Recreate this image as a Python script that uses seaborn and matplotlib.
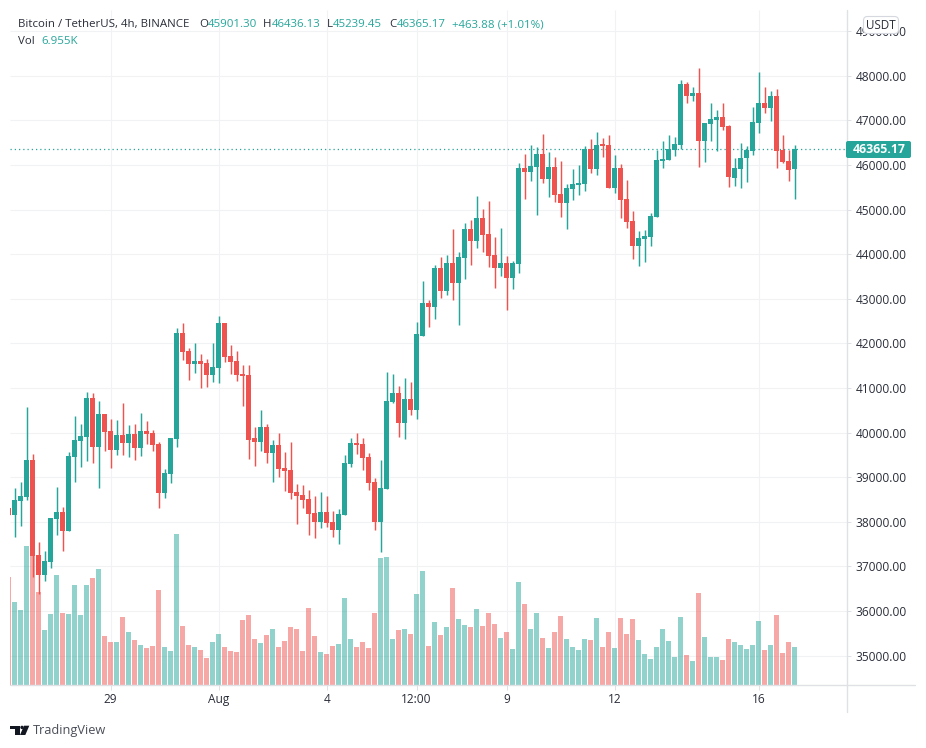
import matplotlib
matplotlib.use('Agg')  # Headless mode
import matplotlib.pyplot as plt
import pandas as pd
import seaborn as sns
from matplotlib.lines import Line2D
from matplotlib.patches import FancyBboxPatch, Polygon, Circle
from matplotlib.transforms import Affine2D

# 4h candles, oldest first (the first one is cut off by the left edge)
opens = [38305, 38148, 38462, 38552, 39382, 37250, 36802, 37093, 38058, 38215, 37789, 39449,
         39809, 39898, 40773, 39674, 40414, 40033, 39607, 39943, 39764, 39966, 39651, 40033,
         39988, 39741, 38642, 39068, 39853, 42232, 41828, 41536, 41604, 41559, 41290, 41447,
         42456, 41716, 41604, 41312, 41290, 39876, 39786, 40123, 39539, 39719, 39203, 39158,
         38664, 38597, 38507, 38193, 37991, 38215, 37991, 37811, 38148, 39292, 39764, 39741,
         39449, 38888, 37991, 38731, 40684, 40886, 40212, 40751, 40504, 42170, 42911, 42821,
         43696, 43180, 43808, 43360, 43921, 44571, 44302, 44818, 44459, 43988, 43696, 43808,
         43472, 43786, 45940, 45851, 45963, 46254, 45693, 45963, 45357, 45155, 45469, 45559,
         45581, 46367, 45918, 46457, 46457, 45492, 45940, 45245, 44751, 44190, 44347, 44392,
         44841, 46098, 46120, 46344, 46457, 47803, 47534, 47623, 46546, 46928, 47018, 47085,
         46883, 45716, 45918, 46165, 46322, 46950, 47377, 47287, 47534, 46344, 46098, 45901.30]
highs = [38305, 38754, 38888, 40571, 39517, 37542, 37340, 38081, 38776, 38327, 39562, 40370,
         40190, 40908, 40886, 40706, 40414, 40302, 40280, 40661, 40168, 40190, 40437, 40257,
         40055, 39786, 39180, 39876, 42344, 42456, 41895, 42008, 41761, 41649, 42008, 42614,
         42456, 41963, 41828, 41514, 41514, 40123, 40504, 40190, 39831, 39988, 39562, 39786,
         38844, 38821, 38709, 38574, 38664, 38574, 38238, 38283, 39494, 39876, 39988, 39876,
         39539, 38978, 39382, 41357, 41312, 41043, 41222, 41132, 42479, 43405, 42978, 43764,
         43943, 43988, 44571, 44055, 44706, 44773, 45312, 45020, 45200, 44392, 44594, 43966,
         43853, 46052, 46254, 46456, 46412, 46703, 46299, 46187, 46097, 45581, 45918, 46008,
         46434, 46591, 46748, 46614, 46681, 46232, 46030, 45671, 44976, 44527, 44549, 44931,
         46344, 46546, 46681, 46636, 47893, 47848, 47736, 48162, 46950, 47377, 47220, 47377,
         46905, 46165, 46501, 46434, 47309, 48072, 47736, 47668, 47713, 46681, 46344, 46436.13]
lows = [38148, 37654, 37901, 38485, 36757, 36375, 36667, 36959, 37699, 37340, 37789, 38888,
        39225, 39360, 39315, 38754, 39584, 39203, 39494, 39494, 39449, 39382, 39472, 39741,
        39584, 38305, 38529, 38866, 39674, 41626, 41177, 41334, 40998, 41020, 41132, 41110,
        41581, 41312, 41155, 40594, 39405, 39248, 39584, 39315, 38888, 39001, 38687, 38507,
        37946, 38305, 37699, 37632, 37856, 37879, 37654, 37497, 38148, 39225, 39517, 39158,
        38709, 37811, 37318, 38731, 40661, 39898, 39853, 40392, 40302, 42170, 42372, 42552,
        43023, 43090, 42978, 42417, 43449, 43764, 44145, 44055, 43719, 43247, 43517, 42754,
        43225, 43584, 45245, 45649, 44886, 45604, 45290, 45177, 44841, 44571, 45222, 45334,
        45424, 45828, 45783, 46187, 45492, 45379, 44818, 44594, 43898, 43741, 43831, 44190,
        44841, 45940, 46120, 46210, 46367, 47377, 47422, 45963, 46075, 46546, 46322, 46793,
        45514, 45537, 45492, 45626, 46232, 46726, 47175, 46995, 45940, 46053, 45649, 45239.45]
closes = [38148, 38485, 38574, 39382, 37228, 36802, 37116, 38081, 38215, 37789, 39472, 39831,
          39921, 40773, 39674, 40414, 40010, 39607, 39943, 39764, 39966, 39651, 40033, 39966,
          39719, 38642, 39090, 39876, 42232, 41806, 41536, 41604, 41536, 41290, 41469, 42456,
          41693, 41581, 41290, 41267, 39831, 39786, 40123, 39539, 39719, 39180, 39135, 38642,
          38574, 38485, 38170, 37991, 38215, 37968, 37811, 38170, 39315, 39764, 39719, 39427,
          38866, 37991, 38754, 40706, 40886, 40212, 40751, 40504, 42210, 42911, 42821, 43696,
          43180, 43808, 43360, 43943, 44571, 44302, 44818, 44437, 43966, 43696, 43808, 43472,
          43808, 45940, 45851, 45985, 46254, 45693, 45963, 45334, 45155, 45491, 45581, 45604,
          46367, 45918, 46456, 46434, 45492, 45940, 45222, 44729, 44190, 44370, 44415, 44863,
          46120, 46142, 46367, 46479, 47803, 47534, 47623, 46546, 46950, 47040, 47085, 46861,
          45739, 45940, 46165, 46344, 46973, 47377, 47287, 47534, 46322, 46075, 45896, 46365.17]
# volume in thousands
volumes = [19.8, 15.2, 13.7, 25.4, 24.7, 17.0, 10.1, 13.0, 20.1, 13.2, 13.0, 18.3,
           12.8, 18.3, 19.6, 21.2, 9.0, 7.9, 7.9, 12.4, 9.7, 8.2, 7.3, 6.8,
           7.1, 17.4, 7.0, 6.2, 27.6, 10.8, 7.3, 7.0, 6.4, 4.9, 7.9, 9.3,
           7.0, 6.2, 6.0, 11.9, 12.8, 8.4, 7.7, 9.2, 10.2, 7.0, 8.1, 10.6,
           10.2, 6.2, 14.1, 9.0, 6.0, 5.7, 7.1, 7.5, 15.9, 8.4, 7.0, 7.9,
           6.8, 13.2, 23.2, 23.4, 8.4, 10.1, 10.2, 9.3, 16.7, 20.9, 7.1, 11.5,
           9.2, 10.6, 17.8, 12.1, 11.0, 10.6, 13.9, 10.8, 13.2, 11.2, 8.6, 9.7,
           6.6, 18.8, 14.8, 10.2, 13.2, 8.6, 6.8, 9.7, 12.6, 8.4, 7.0, 6.4,
           8.4, 8.2, 12.3, 7.0, 9.7, 6.8, 12.3, 9.3, 12.1, 8.2, 5.7, 4.8,
           7.0, 10.2, 8.1, 5.1, 12.4, 5.5, 4.4, 16.8, 8.8, 5.1, 5.1, 4.6,
           8.4, 7.9, 7.3, 6.6, 7.3, 11.7, 6.4, 7.3, 12.8, 5.9, 7.9, 6.955]

date_ticks = [16, 34, 52, 67, 82, 100, 124]
date_labels = ['29', 'Aug', '4', '12:00', '9', '12', '16']
price_ticks = list(range(35000, 50000, 1000))

UP = '#26a69a'
DOWN = '#ef5350'
GRID = '#f0f2f4'
AXIS = '#dfe1e5'
TEXT = '#2a2e39'

sns.set_theme(style='white')
plt.rcParams['font.family'] = ['Open Sans', 'DejaVu Sans']

df = pd.DataFrame({'bar': range(-1, len(opens) - 1), 'open': opens, 'high': highs,
                   'low': lows, 'close': closes, 'volume': volumes})
df['dir'] = ['up' if c >= o else 'down' for o, c in zip(df['open'], df['close'])]
df['color'] = df['dir'].map({'up': UP, 'down': DOWN})

W, H = 926, 748
fig = plt.figure(figsize=(W / 100, H / 100), dpi=100, facecolor='white')
# draw overlays in image pixel coordinates
px = Affine2D().scale(1 / W, -1 / H).translate(0, 1) + fig.transFigure

left, right, top, bottom = 10, 846, 10, 685
pos = [left / W, 1 - bottom / H, (right - left) / W, (bottom - top) / H]
xlim = ((left - 14.67) / 6, (right - 14.67) / 6)
ylim = (48000 - (bottom - 75.7) / 0.044615, 48000 + (75.7 - top) / 0.044615)

# volume layer at the bottom, holds the grid as well
ax_vol = fig.add_axes(pos, zorder=1)
ax = fig.add_axes(pos, zorder=2)
ax.patch.set_alpha(0)

sns.barplot(data=df, x='bar', y='volume', hue='dir', palette={'up': UP, 'down': DOWN},
            native_scale=True, dodge=False, width=5 / 6, saturation=1, alpha=0.5,
            linewidth=0, legend=False, ax=ax_vol, zorder=2)
ax_vol.set_xlim(xlim)
ax_vol.set_ylim(0, (bottom - top) * 6.955 / 38)
ax_vol.axis('off')
ax_vol.patch.set_visible(False)

ax_vol.vlines(date_ticks, 0, 1, transform=ax_vol.get_xaxis_transform(), color=GRID, lw=0.8, zorder=0)
ax_vol.hlines(price_ticks, 0, 1, transform=ax.get_yaxis_transform(), color=GRID, lw=0.8, zorder=0)

ax.axhline(closes[-1], color=UP, lw=0.9, ls=(0, (1, 2.4)), zorder=1)
ax.vlines(df['bar'], df['low'], df['high'], colors=df['color'], lw=1.05, zorder=2)
ax.bar(df['bar'], (df['close'] - df['open']).abs().clip(lower=40), bottom=df[['open', 'close']].min(axis=1),
       width=5 / 6, color=df['color'], linewidth=0, zorder=3)

ax.set_xlim(xlim)
ax.set_ylim(ylim)
for s in ax.spines.values():
    s.set_visible(False)
ax.yaxis.tick_right()
ax.set_yticks(price_ticks)
ax.set_yticklabels([f'{p:.2f}' for p in price_ticks])
ax.set_xticks(date_ticks)
ax.set_xticklabels(date_labels)
ax.tick_params(axis='y', right=True, length=3.6, width=0.7, color=AXIS, labelcolor=TEXT, labelsize=8.6, pad=3.5)
ax.tick_params(axis='x', bottom=True, length=3.6, width=0.7, color=AXIS, labelcolor=TEXT, labelsize=8.6, pad=2.5)

fig.add_artist(Line2D([left, 915], [685.5, 685.5], transform=px, color=AXIS, lw=1.0, zorder=5))
fig.add_artist(Line2D([846.5, 846.5], [top, 712], transform=px, color=AXIS, lw=1.0, zorder=5))

# last price label
fig.add_artist(FancyBboxPatch((846, 141), 65, 17, boxstyle='round,pad=0,rounding_size=2', transform=px,
                              facecolor=UP, edgecolor='none', zorder=6))
fig.text(879, 149.5, f'{closes[-1]:.2f}', transform=px, color='white', fontsize=8.8, fontweight='bold',
         ha='center', va='center', zorder=7)

# currency button
fig.add_artist(FancyBboxPatch((863.5, 16.5), 35, 17, boxstyle='round,pad=0,rounding_size=4', transform=px,
                              facecolor='white', edgecolor='#d6d8e0', lw=0.8, zorder=6))
fig.text(881, 25.2, 'USDT', transform=px, color=TEXT, fontsize=8.4, ha='center', va='center', zorder=7)

# header legend
legend_parts = [
    (18, 24.7, 'Bitcoin / TetherUS, 4h, BINANCE', TEXT),
    (199.3, 24.7, 'O', TEXT), (207.5, 24.7, '45901.30', UP),
    (263.3, 24.7, 'H', TEXT), (271.7, 24.7, '46436.13', UP),
    (326.7, 24.7, 'L', TEXT), (332.8, 24.7, '45239.45', UP),
    (389, 24.7, 'C', TEXT), (396.9, 24.7, '46365.17', UP),
    (451.7, 24.7, '+463.88 (+1.01%)', UP),
    (18, 41.7, 'Vol', TEXT), (41.7, 41.7, '6.955K', UP),
]
for x, y, label, color in legend_parts:
    fig.text(x, y, label, transform=px, color=color, fontsize=8.25, ha='left', va='center', zorder=7)

# TradingView mark
logo = '#131722'
fig.add_artist(Polygon([(10, 725.7), (20, 725.7), (20, 735), (15, 735), (15, 729.3), (10, 729.3)], closed=True,
                       transform=px, facecolor=logo, edgecolor='none', zorder=6))
fig.add_artist(Circle((22, 727.4), 1.7, transform=px, facecolor=logo, edgecolor='none', zorder=6))
fig.add_artist(Polygon([(29.3, 725.7), (25.3, 735), (20, 735), (24, 725.7)], closed=True,
                       transform=px, facecolor=logo, edgecolor='none', zorder=6))
fig.text(33, 730.5, 'TradingView', transform=px, color='#4a4e58', fontsize=9.2, ha='left', va='center', zorder=7)

fig.savefig('out.png', dpi=100, facecolor='white')
plt.close(fig)
